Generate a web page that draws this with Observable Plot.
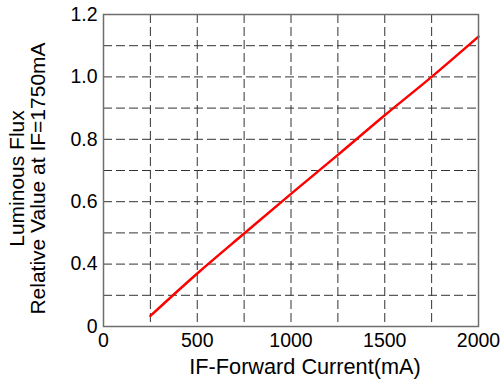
<!DOCTYPE html>
<html>
<head>
<meta charset="utf-8">
<script src="https://cdn.jsdelivr.net/npm/d3@7"></script>
<script src="https://cdn.jsdelivr.net/npm/@observablehq/plot@0.6"></script>
<style>
  html, body { margin: 0; padding: 0; background: #fff; }
</style>
</head>
<body>
<div id="chart"></div>
<script>
// Data
const current = [250, 500, 750, 1000, 1250, 1500, 1750, 2000];
const flux    = [0.234, 0.370, 0.498, 0.625, 0.750, 0.877, 1.000, 1.129];

const xTickValues = [0, 500, 1000, 1500, 2000];
const xGridValues = [250, 500, 750, 1000, 1250, 1500, 1750];
const yTickValues = [0.2, 0.4, 0.6, 0.8, 1.0, 1.2];
const yTickLabels = ["0", "0.4", "0.6", "0.8", "1.0", "1.2"];
const yGridValues = [0.3, 0.4, 0.5, 0.6, 0.7, 0.8, 0.9, 1.0, 1.1];

const xLabel = "IF-Forward Current(mA)";
const yLabel = "Luminous Flux\nRelative Value at IF=1750mA";

const data = current.map((c, i) => ({current: c, flux: flux[i]}));

const chart = Plot.plot({
  width: 500,
  height: 389,
  marginLeft: 103,
  marginTop: 14,
  marginRight: 22,
  marginBottom: 63,
  style: {fontFamily: "'Liberation Sans', Arial, sans-serif", fontSize: "19.5px", color: "#000", background: "#fff"},
  x: {domain: [0, 2000]},
  y: {domain: [0.2, 1.2]},
  marks: [
    Plot.ruleX(xGridValues, {stroke: "#333", strokeWidth: 1, strokeDasharray: "9,4"}),
    Plot.ruleY(yGridValues, {stroke: "#333", strokeWidth: 1, strokeDasharray: "9,4"}),
    Plot.line(data, {x: "current", y: "flux", stroke: "#ff0000", strokeWidth: 2.5, curve: "monotone-x"}),
    Plot.frame({stroke: "#6e6e6e", strokeWidth: 1.5}),
    Plot.axisX({ticks: xTickValues, tickSize: 0, tickPadding: 7, label: null, fontSize: 19.5, tickFormat: d => String(d)}),
    Plot.axisY({ticks: yTickValues, tickSize: 0, tickPadding: 6, label: null, fontSize: 19.5,
      tickFormat: d => yTickLabels[yTickValues.findIndex(v => Math.abs(v - d) < 1e-9)]}),
    Plot.text([xLabel], {text: d => d, frameAnchor: "bottom", dx: 14, dy: 47, fontSize: 21.7, fill: "#000"}),
    Plot.text([yLabel], {text: d => d, frameAnchor: "left", textAnchor: "middle", rotate: -90, dx: -76, dy: 8, fontSize: 21, lineHeight: 1.0, fill: "#000"})
  ]
});
document.getElementById("chart").appendChild(chart);
</script>
</body>
</html>
